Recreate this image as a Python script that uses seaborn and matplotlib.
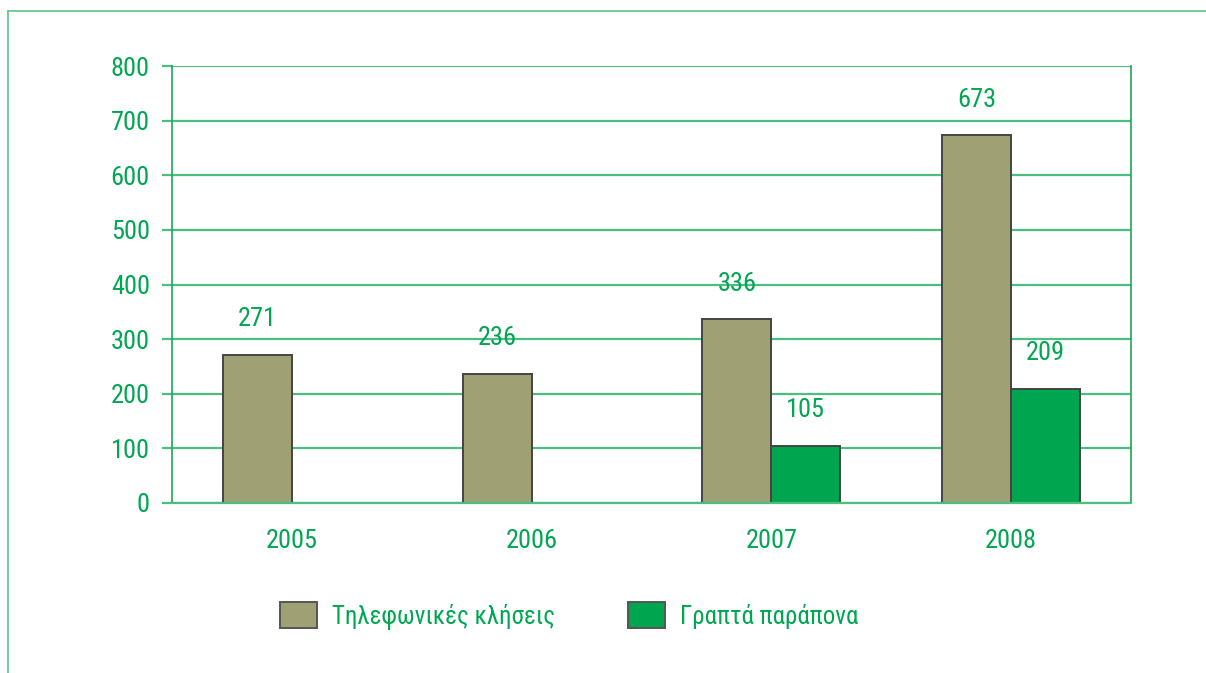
import numpy as np
import pandas as pd
import matplotlib
matplotlib.use("Agg")
import matplotlib.pyplot as plt
from matplotlib.lines import Line2D
from matplotlib.patches import Patch
import seaborn as sns

years = ["2005", "2006", "2007", "2008"]
phone_calls = [271, 236, 336, 673]
written_complaints = [np.nan, np.nan, 105, 209]
series_names = ["Τηλεφωνικές κλήσεις", "Γραπτά παράπονα"]
y_ticks = [0, 100, 200, 300, 400, 500, 600, 700, 800]

df = pd.DataFrame({
    "year": years * 2,
    "value": phone_calls + written_complaints,
    "series": [series_names[0]] * 4 + [series_names[1]] * 4,
})

sns.set_theme(style="white")
plt.rcParams["font.family"] = ["Roboto Condensed", "DejaVu Sans"]

TEXT = "#00a651"
GRID = "#4cbf80"
SPINE = "#1aa85a"
colors = ["#9fa174", "#00a54f"]
EDGE = "#444444"
FS = 19

fig = plt.figure(figsize=(12.06, 6.73), dpi=100)
ax = fig.add_axes([172 / 1206, 1 - 503 / 673, (1131 - 172) / 1206, (503 - 66) / 673])

sns.barplot(data=df, x="year", y="value", hue="series", hue_order=series_names,
            palette=colors, width=0.575, edgecolor=EDGE, linewidth=1.4,
            saturation=1, legend=False, ax=ax)

for c in ax.containers:
    labels = [f"{b.get_height():.0f}" if np.isfinite(b.get_height()) else "" for b in c]
    ax.bar_label(c, labels=labels, padding=17, color=TEXT, fontsize=FS)

ax.set_ylim(0, 800)
ax.set_xlim(-0.5, 3.5)
ax.set_yticks(y_ticks)
ax.set_xlabel("")
ax.set_ylabel("")
ax.yaxis.grid(True, color=GRID, linewidth=1.6)
ax.set_axisbelow(True)

# category separators as minor ticks below the axis
ax.set_xticks(np.arange(-0.5, 4, 1), minor=True)
ax.tick_params(axis="x", which="minor", length=9, width=1.2, color=SPINE, direction="out")
ax.tick_params(axis="x", which="major", length=0, pad=19, labelcolor=TEXT, labelsize=FS)
ax.tick_params(axis="y", length=7, width=1.6, color=GRID, pad=9, labelcolor=TEXT,
               labelsize=FS, left=True)

for s in ["left", "right"]:
    ax.spines[s].set_color(SPINE)
    ax.spines[s].set_linewidth(1.2)
ax.spines["top"].set_visible(False)
ax.spines["bottom"].set_color(GRID)
ax.spines["bottom"].set_linewidth(1.6)

handles = [Patch(facecolor=colors[i], edgecolor="#555555", linewidth=1.4) for i in range(2)]
leg = fig.legend(handles, series_names, loc="center", bbox_to_anchor=(569 / 1206, 1 - 616 / 673),
                 ncol=2, frameon=False, fontsize=18, handlelength=1.48, handleheight=1.2,
                 handletextpad=0.6, columnspacing=2.9)
for t in leg.get_texts():
    t.set_color(TEXT)

# outer frame
frame_color = "#5cc48a"
fig.add_artist(Line2D([8 / 1206, 8 / 1206], [0, 1 - 11 / 673], transform=fig.transFigure,
                      color=frame_color, linewidth=1.2))
fig.add_artist(Line2D([8 / 1206, 1], [1 - 11 / 673, 1 - 11 / 673], transform=fig.transFigure,
                      color=frame_color, linewidth=1.2))

fig.savefig("out.png", dpi=100)
